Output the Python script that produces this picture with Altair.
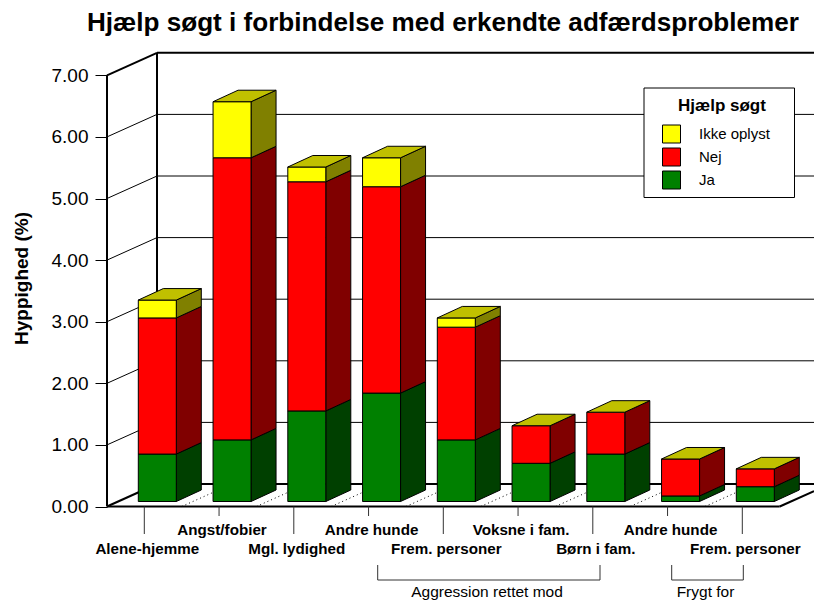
import altair as alt
import pandas as pd

TITLE = "Hjælp søgt i forbindelse med erkendte adfærdsproblemer"
categories = ["Alene-hjemme", "Angst/fobier", "Mgl. lydighed", "Andre hunde", "Frem. personer",
              "Voksne i fam.", "Børn i fam.", "Andre hunde", "Frem. personer"]
ja = [0.77, 1.00, 1.47, 1.76, 1.00, 0.62, 0.77, 0.09, 0.24]
nej = [2.21, 4.58, 3.72, 3.35, 1.83, 0.61, 0.68, 0.60, 0.29]
ikke = [0.29, 0.91, 0.24, 0.47, 0.15, 0, 0, 0, 0]
series = ["Ja", "Nej", "Ikke oplyst"]
front = {"Ja": "#008000", "Nej": "#FF0000", "Ikke oplyst": "#FFFF00"}
side = {"Ja": "#004000", "Nej": "#800000", "Ikke oplyst": "#808000"}
TOP = "#C0C000"
y_ticks = [0, 1, 2, 3, 4, 5, 6, 7]

FONT = "Liberation Sans"
X0, Y0 = 107.0, 506.5      # page position of the front-left floor corner
SX, SY = 74.75, 61.6       # pixels per category / per percent
W, H = 707, 592
PAGE_TOP = 8


def ux(p):
    return (p - X0) / SX


def uy(p):
    return (Y0 - p) / SY


base_axis = alt.Axis(values=y_ticks, format=".2f", domain=False, grid=False, tickSize=12,
                     tickColor="#000000", tickWidth=1, labelFont=FONT, labelFontSize=19,
                     labelColor="#000000", labelPadding=7, title="Hyppighed (%)",
                     titleFont=FONT, titleFontSize=19, titleFontWeight="bold", titleColor="#000000",
                     titleX=-76, titleY=270, titleAlign="center", titleAnchor="middle")

xs = alt.Scale(domain=[0, W / SX], nice=False, zero=False)
ys = alt.Scale(domain=[uy(PAGE_TOP + H), uy(PAGE_TOP)], nice=False, zero=False)
xq = lambda f="x": alt.X(f"{f}:Q", scale=xs, axis=None, title=None)
yq = lambda f="y": alt.Y(f"{f}:Q", scale=ys, axis=base_axis)

WALL_DX, WALL_DY = 50 / SX, 22.5 / SY
BAR_OFF, BAR_W = 31.3 / SX, 38 / SX
BAR_BASE = 5 / SY
BAR_DX, BAR_DY = 25 / SX, 11.5 / SY

# bar faces
fronts, sides, tops = [], [], []
for i in range(len(categories)):
    base = BAR_BASE
    x0 = i + BAR_OFF
    x1 = x0 + BAR_W
    for s, vals in zip(series, [ja, nej, ikke]):
        v = vals[i]
        if v <= 0:
            continue
        t = base + v
        fronts.append(dict(x=x0, x2=x1, y=base, y2=t, series=s))
        fid = f"{i}-{s}"
        sides.append(dict(x=x1, y=base, y2=t, id=fid, fill=side[s]))
        sides.append(dict(x=x1 + BAR_DX, y=base + BAR_DY, y2=t + BAR_DY, id=fid, fill=side[s]))
        base = t
    tops.append(dict(y=base, x=x0, x2=x1, id=i))
    tops.append(dict(y=base + BAR_DY, x=x0 + BAR_DX, x2=x1 + BAR_DX, id=i))

# wall and floor lines
segs = []
def seg(x, y, x2, y2, w=1.0, c="#000000"):
    segs.append(dict(x=x, y=y, x2=x2, y2=y2, w=w, c=c))

xend = W / SX
for v in y_ticks[1:-1]:
    seg(0, v, WALL_DX, v + WALL_DY)
    seg(WALL_DX, v + WALL_DY, xend, v + WALL_DY)
seg(0, 7, WALL_DX, 7 + WALL_DY, 2)
seg(WALL_DX, 7 + WALL_DY, xend, 7 + WALL_DY, 2)
seg(0, 0, 0, 7, 2)
seg(WALL_DX, WALL_DY, WALL_DX, 7 + WALL_DY, 2)
seg(0, 0, WALL_DX, WALL_DY, 2)
seg(WALL_DX, WALL_DY, xend, WALL_DY, 2)
n = len(categories)
seg(0, 0, n, 0, 2)
seg(n, 0, xend, (xend - n) / WALL_DX * WALL_DY, 2)
dots = [dict(x=k, y=0, x2=k + WALL_DX, y2=WALL_DY) for k in range(1, n)]

# category ticks and brackets
TICK_SHIFT = 37.3 / SX
for i in range(n):
    end = 534 if i % 2 == 0 else 516
    seg(i + TICK_SHIFT, 0, i + TICK_SHIFT, uy(end), 1, "#333333")
for a, b in [(377.7, 600), (671.7, 743.3)]:
    seg(ux(a), uy(565), ux(a), uy(580), 1, "#333333")
    seg(ux(b), uy(565), ux(b), uy(580), 1, "#333333")
    seg(ux(a), uy(580), ux(b), uy(580), 1, "#333333")

cat_df = pd.DataFrame([
    dict(x=i + TICK_SHIFT + 3 / SX, y=uy(549 if i % 2 == 0 else 530), t=c)
    for i, c in enumerate(categories)
])
group_df = pd.DataFrame([
    dict(x=ux(487), y=uy(591.5), t="Aggression rettet mod"),
    dict(x=ux(705.5), y=uy(591.5), t="Frygt for"),
])

axis_layer = alt.Chart(pd.DataFrame({"y": y_ticks, "x": [0] * 8})).mark_point(opacity=0).encode(
    x=xq(), y=yq())

line_layer = alt.Chart(pd.DataFrame(segs)).mark_rule().encode(
    x=xq(), x2="x2:Q", y=yq(), y2="y2:Q",
    strokeWidth=alt.StrokeWidth("w:Q", scale=None),
    color=alt.Color("c:N", scale=None))
dot_layer = alt.Chart(pd.DataFrame(dots)).mark_rule(strokeDash=[1, 3], strokeWidth=1, color="#000000").encode(
    x=xq(), x2="x2:Q", y=yq(), y2="y2:Q")

side_layer = alt.Chart(pd.DataFrame(sides)).mark_area(stroke="#000000", strokeWidth=1).encode(
    x=xq(), y=yq(), y2="y2:Q", detail="id:N", fill=alt.Fill("fill:N", scale=None))
top_layer = alt.Chart(pd.DataFrame(tops)).mark_area(orient="horizontal", stroke="#000000", strokeWidth=1, fill=TOP).encode(
    y=yq(), x=xq(), x2="x2:Q", detail="id:N")

order = ["Ikke oplyst", "Nej", "Ja"]
front_layer = alt.Chart(pd.DataFrame(fronts)).mark_rect(stroke="#000000", strokeWidth=1).encode(
    x=xq(), x2="x2:Q", y=yq(), y2="y2:Q",
    fill=alt.Fill("series:N",
                  scale=alt.Scale(domain=order, range=[front[k] for k in order]),
                  legend=alt.Legend(orient="none", legendX=555, legendY=116.5, title=None, padding=0,
                                    symbolType="square", symbolSize=324, symbolStrokeColor="#000000",
                                    symbolStrokeWidth=1, labelFont=FONT, labelFontSize=15,
                                    labelColor="#000000", labelOffset=18, rowPadding=0)))

frame = alt.Chart(pd.DataFrame([dict(x=ux(644), x2=ux(794.5), y=uy(88), y2=uy(197.5))])).mark_rect(
    fill="#FFFFFF", stroke="#000000", strokeWidth=1).encode(x=xq(), x2="x2:Q", y=yq(), y2="y2:Q")
legend_title = alt.Chart(pd.DataFrame([dict(x=ux(722), y=uy(105.5), t="Hjælp søgt")])).mark_text(
    font=FONT, fontSize=17, fontWeight="bold", color="#000000", baseline="middle", align="center").encode(
    x=xq(), y=yq(), text="t:N")

cat_text = alt.Chart(cat_df).mark_text(font=FONT, fontSize=15.2, fontWeight="bold", color="#000000",
                                       baseline="middle", align="center").encode(x=xq(), y=yq(), text="t:N")
group_text = alt.Chart(group_df).mark_text(font=FONT, fontSize=15.5, color="#000000",
                                           baseline="middle", align="center").encode(x=xq(), y=yq(), text="t:N")

chart = alt.layer(axis_layer, line_layer, dot_layer, side_layer, front_layer, top_layer,
                  frame, legend_title, cat_text, group_text).resolve_scale(fill="independent").properties(
    width=W, height=H,
    padding={"left": 99, "top": 0, "right": 0, "bottom": 0},
    autosize=alt.AutoSizeParams(type="none"),
    title=alt.TitleParams(TITLE, anchor="start", frame="group", dx=-20, dy=49, offset=0,
                          baseline="alphabetic", font=FONT, fontSize=26.1, fontWeight="bold", color="#000000"),
).configure_view(stroke=None)

chart.save("out.html", embed_options={"renderer": "svg", "actions": False})
